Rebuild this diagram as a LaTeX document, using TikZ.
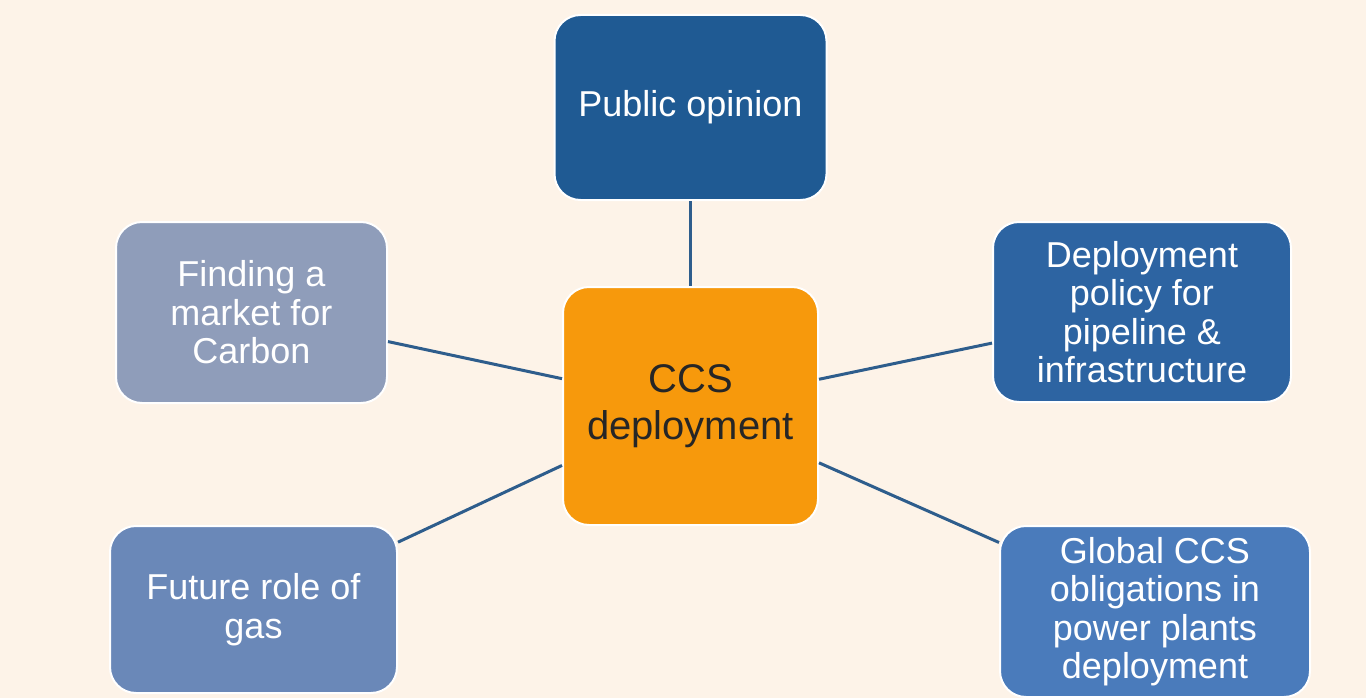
\documentclass[tikz,border=0pt]{standalone}
\usepackage{fontspec}
\setmainfont{Liberation Sans}
\definecolor{bgc}{HTML}{FDF3E8}
\definecolor{cpub}{HTML}{1F5A93}
\definecolor{cdep}{HTML}{2D64A2}
\definecolor{cfind}{HTML}{8F9DBA}
\definecolor{cfut}{HTML}{6A88B8}
\definecolor{cglob}{HTML}{4A7BBB}
\definecolor{corg}{HTML}{F7990C}
\definecolor{cline}{HTML}{2E5D8C}
\tikzset{
  boxbase/.style={draw=white, line width=2pt, rounded corners=26pt, text=white, align=center, inner sep=0pt,
    font=\fontsize{36}{38.5}\selectfont},
  conn/.style={draw=cline, line width=3pt}
}
\begin{document}
\begin{tikzpicture}[x=1pt,y=-1pt]
\fill[bgc] (0,0) rectangle (1366,698);
\useasboundingbox (0,0) rectangle (1366,698);
\node[boxbase, fill=cpub, minimum width=272pt, minimum height=185pt] (pub) at (690.5,107.5) {Public opinion};
\node[boxbase, fill=cfind, minimum width=271pt, minimum height=181pt] (find) at (251.5,312.5) {Finding a\\market for\\Carbon};
\node[boxbase, fill=cdep, minimum width=298pt, minimum height=180pt] (dep) at (1142,312) {Deployment\\policy for\\pipeline \&\\infrastructure};
\node[boxbase, fill=cfut, minimum width=287pt, minimum height=167pt] (fut) at (253.5,609.5) {Future role of\\gas};
\node[boxbase, fill=cglob, minimum width=310pt, minimum height=171pt] (glob) at (1155,611.5) {Global CCS\\obligations in\\power plants\\deployment};
\node[boxbase, fill=corg, minimum width=255pt, minimum height=238pt, font=\fontsize{40}{47}\selectfont, text=black!85] (ccs) at (690.5,406) {CCS\\deployment};
\draw[conn] (pub) -- (ccs);
\draw[conn] (find) -- (ccs);
\draw[conn] (dep) -- (ccs);
\draw[conn] (fut) -- (ccs);
\draw[conn] (glob) -- (ccs);
\end{tikzpicture}
\end{document}
